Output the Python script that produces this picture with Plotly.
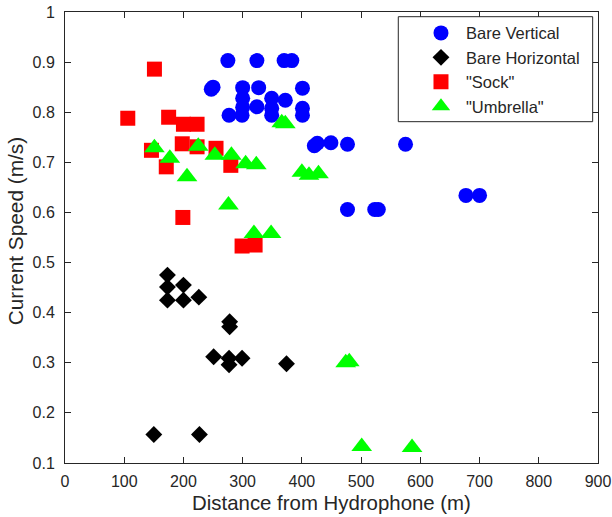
import plotly.graph_objects as go

# Current speed vs. distance from hydrophone, four deployment configurations
bare_vertical_x = [275, 324, 370, 383, 247, 250, 300, 327, 401, 300, 349, 372, 324, 300, 349, 401,
                   277, 299, 349, 401, 421, 426, 449, 477, 575, 477, 523, 529, 677, 700]
bare_vertical_y = [0.903, 0.903, 0.903, 0.903, 0.846, 0.850, 0.849, 0.849, 0.848, 0.828, 0.828, 0.824,
                   0.811, 0.810, 0.808, 0.808, 0.794, 0.794, 0.794, 0.794, 0.733, 0.738, 0.739, 0.736,
                   0.736, 0.606, 0.606, 0.606, 0.634, 0.634]

bare_horizontal_x = [173, 173, 173, 200, 200, 226, 278, 278, 251, 277, 277, 299, 374, 150, 227]
bare_horizontal_y = [0.475, 0.451, 0.425, 0.455, 0.425, 0.431, 0.382, 0.372, 0.312, 0.309, 0.296,
                     0.309, 0.298, 0.157, 0.157]

sock_x = [106, 151, 175, 200, 223, 198, 223, 146, 255, 171, 280, 199, 299, 321]
sock_y = [0.788, 0.886, 0.790, 0.776, 0.776, 0.737, 0.731, 0.724, 0.728, 0.691, 0.694, 0.590,
          0.533, 0.535]

umbrella_x = [151, 177, 225, 206, 253, 281, 305, 323, 276, 319, 348, 366, 372, 400, 412, 428,
              474, 480, 501, 586]
umbrella_y = [0.729, 0.708, 0.732, 0.671, 0.714, 0.714, 0.697, 0.695, 0.615, 0.558, 0.558, 0.779,
              0.777, 0.680, 0.674, 0.677, 0.300, 0.302, 0.133, 0.131]

x_ticks = [0, 100, 200, 300, 400, 500, 600, 700, 800, 900]
y_ticks = [0.1, 0.2, 0.3, 0.4, 0.5, 0.6, 0.7, 0.8, 0.9, 1.0]
y_tick_text = ["0.1", "0.2", "0.3", "0.4", "0.5", "0.6", "0.7", "0.8", "0.9", "1"]

FONT = "Liberation Sans, Arial, sans-serif"
INK = "#262626"

fig = go.Figure()
fig.add_trace(go.Scatter(x=bare_vertical_x, y=bare_vertical_y, mode="markers", name="Bare Vertical",
                         marker=dict(symbol="circle", size=15, color="#0000ff", line=dict(width=0))))
fig.add_trace(go.Scatter(x=bare_horizontal_x, y=bare_horizontal_y, mode="markers", name="Bare Horizontal",
                         marker=dict(symbol="diamond", size=13, color="#000000", line=dict(width=0))))
fig.add_trace(go.Scatter(x=sock_x, y=sock_y, mode="markers", name='"Sock"',
                         marker=dict(symbol="square", size=15, color="#ff0000", line=dict(width=0))))
fig.add_trace(go.Scatter(x=umbrella_x, y=umbrella_y, mode="markers", name='"Umbrella"',
                         marker=dict(symbol="triangle-up", size=18, color="#00ff00", line=dict(width=0))))

axis_common = dict(
    showgrid=False, zeroline=False, showline=True, linecolor=INK, linewidth=1,
    mirror="ticks", ticks="inside", ticklen=6, tickcolor=INK, tickwidth=1,
    tickfont=dict(family=FONT, size=16, color=INK), automargin=False,
)

fig.update_layout(
    width=612, height=517,
    margin=dict(l=65, r=14, t=12, b=54, pad=0),
    paper_bgcolor="white", plot_bgcolor="white",
    showlegend=True,
    legend=dict(
        x=0.6585, y=0.9918, xanchor="left", yanchor="top",
        bgcolor="rgba(0,0,0,0)", borderwidth=0, itemwidth=40,
        font=dict(family=FONT, size=16.5, color=INK),
    ),
    # legend frame
    shapes=[dict(type="rect", xref="paper", yref="paper",
                 x0=0.6253, x1=0.990, y0=0.7568, y1=0.9896,
                 line=dict(color=INK, width=1), fillcolor="white", layer="above")],
    xaxis=dict(range=[0, 900], tickvals=x_ticks, ticklabelstandoff=4,
               title=dict(text="Distance from Hydrophone (m)", font=dict(family=FONT, size=20.4, color=INK),
                          standoff=6),
               **axis_common),
    yaxis=dict(range=[0.1, 1.0], tickvals=y_ticks, ticktext=y_tick_text, ticklabelstandoff=6,
               **axis_common),
    annotations=[dict(text="Current Speed (m/s)", textangle=-90, xref="paper", yref="paper",
                      x=-0.0923, y=0.5133, xanchor="center", yanchor="middle", showarrow=False,
                      font=dict(family=FONT, size=20.8, color=INK))],
)

fig.write_html("out.html")
